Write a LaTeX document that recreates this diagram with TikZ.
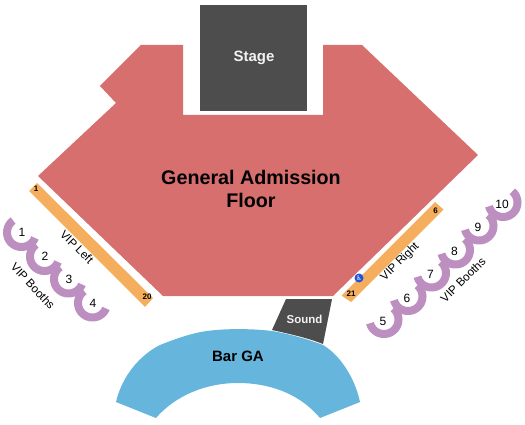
\documentclass[tikz,border=0pt]{standalone}
\usepackage{fontspec}
\setmainfont{Liberation Sans}
\newfontfamily\symfont{DejaVu Sans}
\definecolor{floorc}{HTML}{D76F6F}
\definecolor{darkc}{HTML}{4D4D4D}
\definecolor{orangec}{HTML}{F5AE5E}
\definecolor{purplec}{HTML}{BC8FC0}
\definecolor{bluec}{HTML}{66B5DD}
\definecolor{wheelc}{HTML}{1F55D8}
\tikzset{
  boothl/.style={draw=purplec,line width=8pt},
  big/.style={font=\fontsize{19.7}{23}\selectfont\bfseries,align=center,text=black,inner sep=0pt},
  small/.style={font=\fontsize{11.6}{13}\selectfont,text=black,inner sep=0pt},
  num/.style={font=\fontsize{12}{13}\selectfont,text=black,inner sep=0pt},
  tiny/.style={font=\fontsize{8}{9}\selectfont\bfseries,text=black,inner sep=0pt},
}
\newcommand{\boothL}[3]{\draw[boothl] plot[smooth,samples=40,domain=22:235] ({#1+14.5*cos(\x)},{#2+14.5*sin(\x)}); \node[num] (b#3) at (#1+.5,#2) {#3};}
\newcommand{\boothR}[3]{\draw[boothl] plot[smooth,samples=40,domain=-50:165] ({#1+14.5*cos(\x)},{#2+14.5*sin(\x)}); \node[num] (b#3) at (#1-1,#2+1.5) {#3};}
\begin{document}
\begin{tikzpicture}[x=1pt,y=-1pt]
\useasboundingbox (0,0) rectangle (525,425);
\fill[floorc] (141,45) -- (183,45) -- (183,115) -- (323,115) -- (323,45) -- (362,45) -- (478,155) -- (333,296) -- (163,296) -- (38,176) -- (116,103) -- (100,86) -- cycle;
\fill[darkc] (200,5) rectangle (307,111);
\node[font=\fontsize{15}{17}\selectfont\bfseries,text=white!95!black] (stage) at (254,58) {Stage};
\node[big] (floor) at (251,188.5) {General Admission\\Floor};
\fill[orangec] (29,191) -- (37,183) -- (153,298) -- (145,307) -- cycle;
\fill[orangec] (341.5,295.5) -- (435,202) -- (443.5,209.5) -- (351,302) -- cycle;
\node[tiny] (s1) at (36,189) {1};
\node[tiny] (s20) at (147,297) {20};
\node[tiny] (s6) at (435.5,211) {6};
\node[tiny] (s21) at (351,294) {21};
\fill[wheelc] (359,278) circle (4.5);
\node[font=\fontsize{6.5}{7}\symfont,text=white,inner sep=0pt] (wc) at (359,278) {\char"267F};
\node[small,rotate=-45] (vl) at (77,247) {VIP Left};
\node[small,rotate=-47] (vbl) at (33,286) {VIP Booths};
\node[small,rotate=45] (vr) at (400,262) {VIP Right};
\node[small,rotate=45] (vbr) at (463,280) {VIP Booths};
\boothL{21.5}{232.5}{1}
\boothL{44.5}{256.5}{2}
\boothL{68.5}{279}{3}
\boothL{92.5}{303}{4}
\boothR{384}{319.5}{5}
\boothR{408}{296.5}{6}
\boothR{431.5}{273}{7}
\boothR{455.5}{250}{8}
\boothR{479}{226}{9}
\boothR{503}{202.5}{10}
\fill[bluec] (116,402) .. controls (122,376) and (140,355) .. (160,345)
  .. controls (175,339) and (192,333) .. (207,331)
  .. controls (230,328) and (255,329) .. (272,331)
  .. controls (290,334) and (310,340) .. (323,345)
  .. controls (340,355) and (355,378) .. (360,402)
  -- (320,418) .. controls (300,394) and (270,383) .. (238,383)
  .. controls (205,383) and (175,396) .. (156,418) -- cycle;
\fill[darkc] (286,299) -- (332,299) -- (323,344) .. controls (308,338) and (290,334) .. (272,330) -- cycle;
\node[font=\fontsize{11.5}{13}\selectfont\bfseries,text=white!95!black] (sound) at (304.5,319) {Sound};
\node[font=\fontsize{15}{17}\selectfont\bfseries,text=black] (bar) at (238,356) {Bar GA};
\end{tikzpicture}
\end{document}
